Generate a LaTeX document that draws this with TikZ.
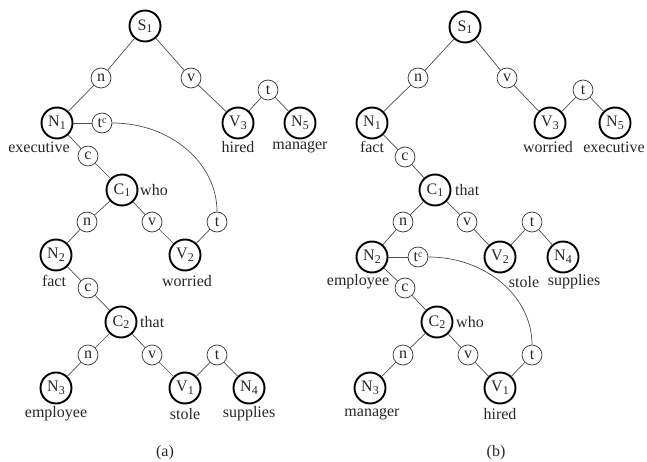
\documentclass[tikz,border=0pt]{standalone}
\usepackage{fontspec}
\setmainfont{Liberation Serif}
\usetikzlibrary{calc}
\newcommand{\mysub}[1]{\raisebox{-0.35ex}{\fontsize{12}{13}\selectfont #1}}
\newcommand{\mysup}[1]{\raisebox{0.55ex}{\fontsize{10}{11}\selectfont #1}}
\begin{document}
\begin{tikzpicture}[x=1pt,y=-1pt,
  font=\fontsize{16}{19}\selectfont,
  big/.style={circle,draw=black,line width=1.9pt,minimum size=31pt,inner sep=0pt,text=black!85},
  sml/.style={circle,draw=black!80,line width=0.7pt,minimum size=20pt,inner sep=0pt,text=black!85,fill=white},
  lbl/.style={inner sep=0pt,text=black!85},
  edge/.style={draw=black!70,line width=0.7pt}]
\useasboundingbox (0,0) rectangle (647,462);
% ---------------- tree (a) ----------------
\node[big] (Sa) at (145,26) {S\mysub{1}};
\node[sml] (na1) at (101,78) {n};
\node[sml] (va1) at (191,78) {v};
\node[big] (N1a) at (57,123) {N\mysub{1}};
\node[sml] (tca) at (102,123) {t\mysup{c}};
\node[big] (V3a) at (238,123) {V\mysub{3}};
\node[sml] (ta1) at (268,90) {t};
\node[big] (N5a) at (300,123) {N\mysub{5}};
\node[sml] (ca1) at (88,156) {c};
\node[big] (C1a) at (122,190) {C\mysub{1}};
\node[sml] (na2) at (87,222) {n};
\node[sml] (va2) at (152,222) {v};
\node[sml] (ta2) at (217,222) {t};
\node[big] (N2a) at (56,255) {N\mysub{2}};
\node[big] (V2a) at (185,255) {V\mysub{2}};
\node[sml] (ca2) at (88,288) {c};
\node[big] (C2a) at (121,322) {C\mysub{2}};
\node[sml] (na3) at (88,355) {n};
\node[sml] (va3) at (152,355) {v};
\node[sml] (ta3) at (217,355) {t};
\node[big] (N3a) at (56,388) {N\mysub{3}};
\node[big] (V1a) at (185,388) {V\mysub{1}};
\node[big] (N4a) at (249,388) {N\mysub{4}};
\node[lbl] (la1) at (39,147) {executive};
\node[lbl] (la2) at (238,147) {hired};
\node[lbl] (la3) at (300,147) {manager};
\node[lbl,anchor=west] (la4) at (140,190) {who};
\node[lbl] (la5) at (54,281) {fact};
\node[lbl] (la6) at (187,281) {worried};
\node[lbl,anchor=west] (la7) at (140,322) {that};
\node[lbl] (la8) at (56,414) {employee};
\node[lbl] (la9) at (185,414) {stole};
\node[lbl] (la10) at (249,414) {supplies};
\node[lbl] (capa) at (165,453) {(a)};
\draw[edge] (Sa) -- (na1) -- (N1a);
\draw[edge] (Sa) -- (va1) -- (V3a);
\draw[edge] (V3a) -- (ta1) -- (N5a);
\draw[edge] (N1a) -- (tca);
\draw[edge] (N1a) -- (ca1) -- (C1a);
\draw[edge] (C1a) -- (na2) -- (N2a);
\draw[edge] (C1a) -- (va2) -- (V2a);
\draw[edge] (V2a) -- (ta2);
\draw[edge] let \p1=(tca.east), \p2=(ta2.north) in
  (\p1) arc[start angle=90,end angle=0,x radius={\x2-\x1},y radius={\y1-\y2}];
\draw[edge] (N2a) -- (ca2) -- (C2a);
\draw[edge] (C2a) -- (na3) -- (N3a);
\draw[edge] (C2a) -- (va3) -- (V1a);
\draw[edge] (V1a) -- (ta3) -- (N4a);
% ---------------- tree (b) ----------------
\node[big] (Sb) at (465,27) {S\mysub{1}};
\node[sml] (nb1) at (418,78) {n};
\node[sml] (vb1) at (507,78) {v};
\node[big] (N1b) at (372,123) {N\mysub{1}};
\node[big] (V3b) at (550,123) {V\mysub{3}};
\node[sml] (tb1) at (583,90) {t};
\node[big] (N5b) at (615,123) {N\mysub{5}};
\node[sml] (cb1) at (405,157) {c};
\node[big] (C1b) at (435,190) {C\mysub{1}};
\node[sml] (nb2) at (403,222) {n};
\node[sml] (vb2) at (467,222) {v};
\node[sml] (tb2) at (532,222) {t};
\node[big] (N2b) at (372,257) {N\mysub{2}};
\node[sml] (tcb) at (418,257) {t\mysup{c}};
\node[big] (V2b) at (500,257) {V\mysub{2}};
\node[big] (N4b) at (563,257) {N\mysub{4}};
\node[sml] (cb2) at (405,288) {c};
\node[big] (C2b) at (437,322) {C\mysub{2}};
\node[sml] (nb3) at (403,355) {n};
\node[sml] (vb3) at (468,355) {v};
\node[sml] (tb3) at (532,355) {t};
\node[big] (N3b) at (370,388) {N\mysub{3}};
\node[big] (V1b) at (500,388) {V\mysub{1}};
\node[lbl] (lb1) at (372,147) {fact};
\node[lbl] (lb2) at (548,147) {worried};
\node[lbl] (lb3) at (614,147) {executive};
\node[lbl,anchor=west] (lb4) at (455,190) {that};
\node[lbl] (lb5) at (358,282) {employee};
\node[lbl] (lb6) at (524,282) {stole};
\node[lbl] (lb7) at (574,282) {supplies};
\node[lbl,anchor=west] (lb8) at (456,322) {who};
\node[lbl] (lb9) at (372,414) {manager};
\node[lbl] (lb10) at (500,414) {hired};
\node[lbl] (capb) at (496,453) {(b)};
\draw[edge] (Sb) -- (nb1) -- (N1b);
\draw[edge] (Sb) -- (vb1) -- (V3b);
\draw[edge] (V3b) -- (tb1) -- (N5b);
\draw[edge] (N1b) -- (cb1) -- (C1b);
\draw[edge] (C1b) -- (nb2) -- (N2b);
\draw[edge] (C1b) -- (vb2) -- (V2b);
\draw[edge] (V2b) -- (tb2) -- (N4b);
\draw[edge] (N2b) -- (tcb);
\draw[edge] (N2b) -- (cb2) -- (C2b);
\draw[edge] (C2b) -- (nb3) -- (N3b);
\draw[edge] (C2b) -- (vb3) -- (V1b);
\draw[edge] (V1b) -- (tb3);
\draw[edge] let \p1=(tcb.east), \p2=(tb3.north) in
  (\p1) arc[start angle=90,end angle=0,x radius={\x2-\x1},y radius={\y1-\y2}];
\end{tikzpicture}
\end{document}
